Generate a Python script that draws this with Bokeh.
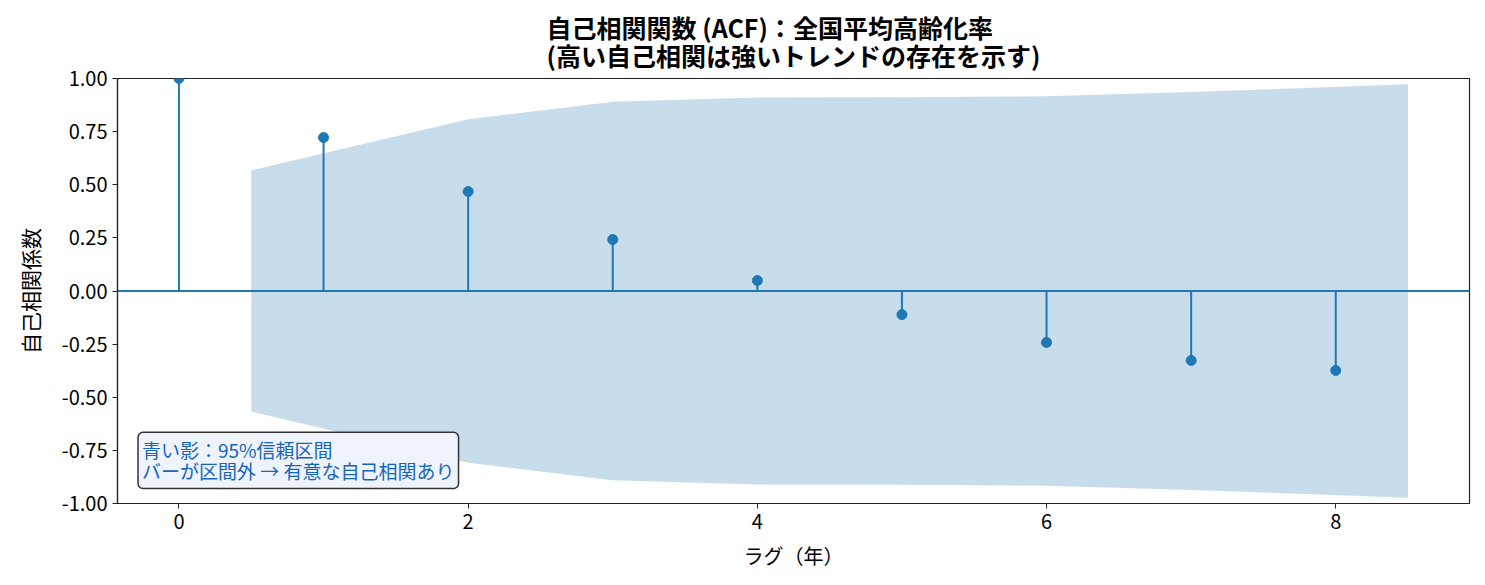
from bokeh.plotting import figure
from bokeh.models import (Span, Label, FixedTicker, PrintfTickFormatter,
                          Range1d, ColumnDataSource)
from bokeh.embed import file_html
from bokeh.resources import INLINE

# ---- data ----
lags = [0, 1, 2, 3, 4, 5, 6, 7, 8]
acf_values = [1.0, 0.722, 0.468, 0.242, 0.049, -0.111, -0.242, -0.327, -0.374]
band_x = [0.5, 2, 3, 4, 5, 6, 7, 8.5]
band_upper = [0.567, 0.808, 0.891, 0.911, 0.912, 0.916, 0.936, 0.973]
band_lower = [-v for v in band_upper]
y_ticks = [-1.0, -0.75, -0.5, -0.25, 0.0, 0.25, 0.5, 0.75, 1.0]
x_ticks = [0, 2, 4, 6, 8]

title_line1 = "自己相関関数 (ACF)：全国平均高齢化率"
title_line2 = "(高い自己相関は強いトレンドの存在を示す)"
x_label = "ラグ（年）"
y_label = "自己相関係数"
note_text = "青い影：95%信頼区間\nバーが区間外 → 有意な自己相関あり"

FONT = "Noto Sans CJK JP"
BLUE = "#1f77b4"
X_MIN, X_MAX = -0.425, 8.925
Y_MIN, Y_MAX = -1.0, 1.0

p = figure(width=1477, height=577, output_backend="svg", toolbar_location=None,
           x_range=Range1d(X_MIN, X_MAX), y_range=Range1d(Y_MIN, Y_MAX),
           min_border_left=117, min_border_right=8, min_border_top=78,
           min_border_bottom=74)

# two-line title
p.title.text = title_line1 + "\n" + title_line2
p.title.align = "center"
p.title.text_font = FONT
p.title.text_font_size = "25px"
p.title.text_font_style = "bold"
p.title.text_color = "black"
p.title.text_line_height = 0.8
p.title.standoff = 10

# confidence band
src_band = ColumnDataSource(dict(x=band_x, lo=band_lower, hi=band_upper))
p.varea(x="x", y1="lo", y2="hi", source=src_band, fill_color=BLUE, fill_alpha=0.25)

# zero line
p.add_layout(Span(location=0, dimension="width", line_color=BLUE, line_width=2))

# stems and markers
src = ColumnDataSource(dict(lag=lags, acf=acf_values, zero=[0] * len(lags)))
p.segment(x0="lag", y0="zero", x1="lag", y1="acf", source=src,
          line_color=BLUE, line_width=2)
p.scatter(x="lag", y="acf", source=src, size=10, fill_color=BLUE, line_color=BLUE)

# annotation box
p.add_layout(Label(x=-0.283, y=-0.929, text=note_text, text_font=FONT,
                   text_font_size="19px", text_color="#1565c0",
                   text_line_height=0.78,
                   anchor="bottom_left",
                   background_fill_color="#eef3fc", background_fill_alpha=1.0,
                   border_line_color="#333333", border_line_width=1.5,
                   border_radius=5, padding=4))

# axes
p.xaxis.ticker = FixedTicker(ticks=x_ticks)
p.yaxis.ticker = FixedTicker(ticks=y_ticks)
p.yaxis.formatter = PrintfTickFormatter(format="%.2f")
for ax in (p.xaxis[0], p.yaxis[0]):
    ax.major_label_text_font = FONT
    ax.major_label_text_font_size = "20px"
    ax.major_label_text_color = "black"
    ax.axis_label_text_font = FONT
    ax.axis_label_text_font_size = "20px"
    ax.axis_label_text_font_style = "normal"
    ax.axis_label_text_color = "black"
    ax.minor_tick_line_color = None
    ax.major_tick_in = 0
    ax.major_tick_out = 5
    ax.major_tick_line_color = "#222222"
    ax.axis_line_color = "#222222"
    ax.axis_line_width = 1.2
p.xaxis.axis_label = x_label
p.yaxis.axis_label = y_label
p.xaxis.axis_label_standoff = 9
p.yaxis.axis_label_standoff = 14
p.xaxis.major_label_standoff = 5
p.yaxis.major_label_standoff = 5
p.yaxis.axis_label_text_font_size = "21px"

p.xgrid.visible = False
p.ygrid.visible = False
p.outline_line_color = "#222222"
p.outline_line_width = 1.2
p.background_fill_color = "white"
p.border_fill_color = "white"

open("out.html", "w").write(file_html(p, INLINE))
